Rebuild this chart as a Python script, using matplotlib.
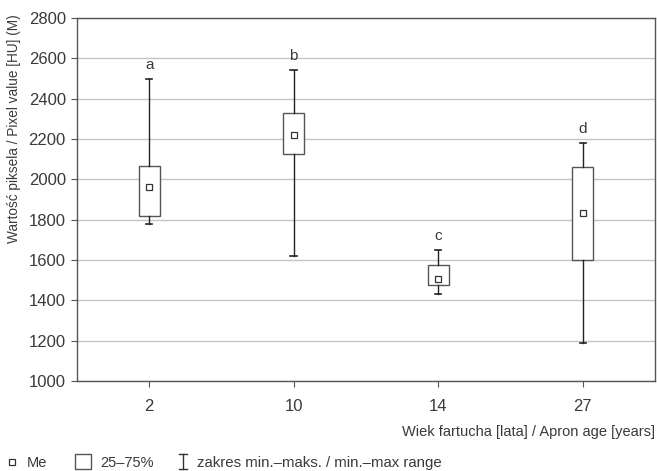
import matplotlib
matplotlib.use('Agg')
from matplotlib import pyplot as plt
from matplotlib.lines import Line2D
from matplotlib.patches import Rectangle

# data
ages = ['2', '10', '14', '27']
letters = ['a', 'b', 'c', 'd']
v_min = [1778, 1620, 1430, 1187]
q1 = [1818, 2123, 1475, 1600]
median = [1963, 2222, 1506, 1831]
q3 = [2067, 2327, 1577, 2062]
v_max = [2498, 2543, 1650, 2179]

plt.rcParams['font.family'] = ['Liberation Sans', 'DejaVu Sans']
txt = '#3a3a3a'

fig = plt.figure(figsize=(6.57, 4.71), dpi=100)
ax = fig.add_axes([0.117, 0.191, 0.880, 0.771])

# build box stats for bxp
stats = []
for i in range(len(ages)):
    stats.append({'med': median[i], 'q1': q1[i], 'q3': q3[i],
                  'whislo': v_min[i], 'whishi': v_max[i], 'label': ages[i]})

pos = list(range(len(ages)))
ax.bxp(stats, positions=pos, widths=0.145, showfliers=False, patch_artist=True,
       boxprops=dict(facecolor='white', edgecolor='#555555', linewidth=1.0),
       whiskerprops=dict(color='#222222', linewidth=1.0),
       capprops=dict(color='#222222', linewidth=1.2),
       medianprops=dict(linewidth=0), capwidths=0.045, zorder=3)

# median markers
ax.plot(pos, median, linestyle='none', marker='s', markersize=4.5,
        markerfacecolor='white', markeredgecolor='#333333', markeredgewidth=0.9, zorder=4)

# group letters
for i in range(len(ages)):
    ax.text(pos[i], v_max[i] + 35, letters[i], ha='center', va='bottom',
            fontsize=11, color=txt)

ax.set_ylim(1000, 2800)
ax.set_xlim(-0.5, 3.5)
ax.set_yticks(range(1000, 2801, 200))
ax.set_xticks(pos)
ax.set_xticklabels(ages)
ax.yaxis.grid(True, color='#c4c4c4', linewidth=1.0)
ax.set_axisbelow(True)
for s in ax.spines.values():
    s.set_color('#555555')
    s.set_linewidth(1.0)
ax.tick_params(axis='both', colors='#555555', labelcolor=txt, labelsize=12, length=4)
ax.tick_params(axis='x', pad=9)
ax.tick_params(axis='y', pad=4)

ax.set_ylabel('Wartość piksela / Pixel value [HU] (M)', fontsize=9.8, color=txt)
ax.yaxis.set_label_coords(-0.097, 0.695)
fig.text(0.997, 0.083, 'Wiek fartucha [lata] / Apron age [years]', ha='right', va='center',
         fontsize=10.5, color=txt)

# legend row at the bottom
ly = 0.018
fig.add_artist(Line2D([0.018], [ly + 0.002], marker='s', markersize=4.5, markerfacecolor='white',
                      markeredgecolor='#333333', markeredgewidth=0.9, transform=fig.transFigure))
fig.text(0.04, ly, 'Me', fontsize=10.5, color=txt, va='center')
fig.add_artist(Rectangle((0.114, ly - 0.014), 0.024, 0.032, facecolor='white',
                         edgecolor='#555555', linewidth=1.0, transform=fig.transFigure))
fig.text(0.152, ly, '25–75%', fontsize=10.5, color=txt, va='center')
fig.add_artist(Line2D([0.279, 0.279], [ly - 0.014, ly + 0.018], color='#333333', linewidth=1.0,
                      transform=fig.transFigure))
fig.add_artist(Line2D([0.273, 0.285], [ly + 0.018, ly + 0.018], color='#333333', linewidth=1.0,
                      transform=fig.transFigure))
fig.add_artist(Line2D([0.273, 0.285], [ly - 0.014, ly - 0.014], color='#333333', linewidth=1.0,
                      transform=fig.transFigure))
fig.text(0.3, ly, 'zakres min.–maks. / min.–max range', fontsize=10.8, color=txt, va='center')

fig.savefig('out.png', dpi=100)
